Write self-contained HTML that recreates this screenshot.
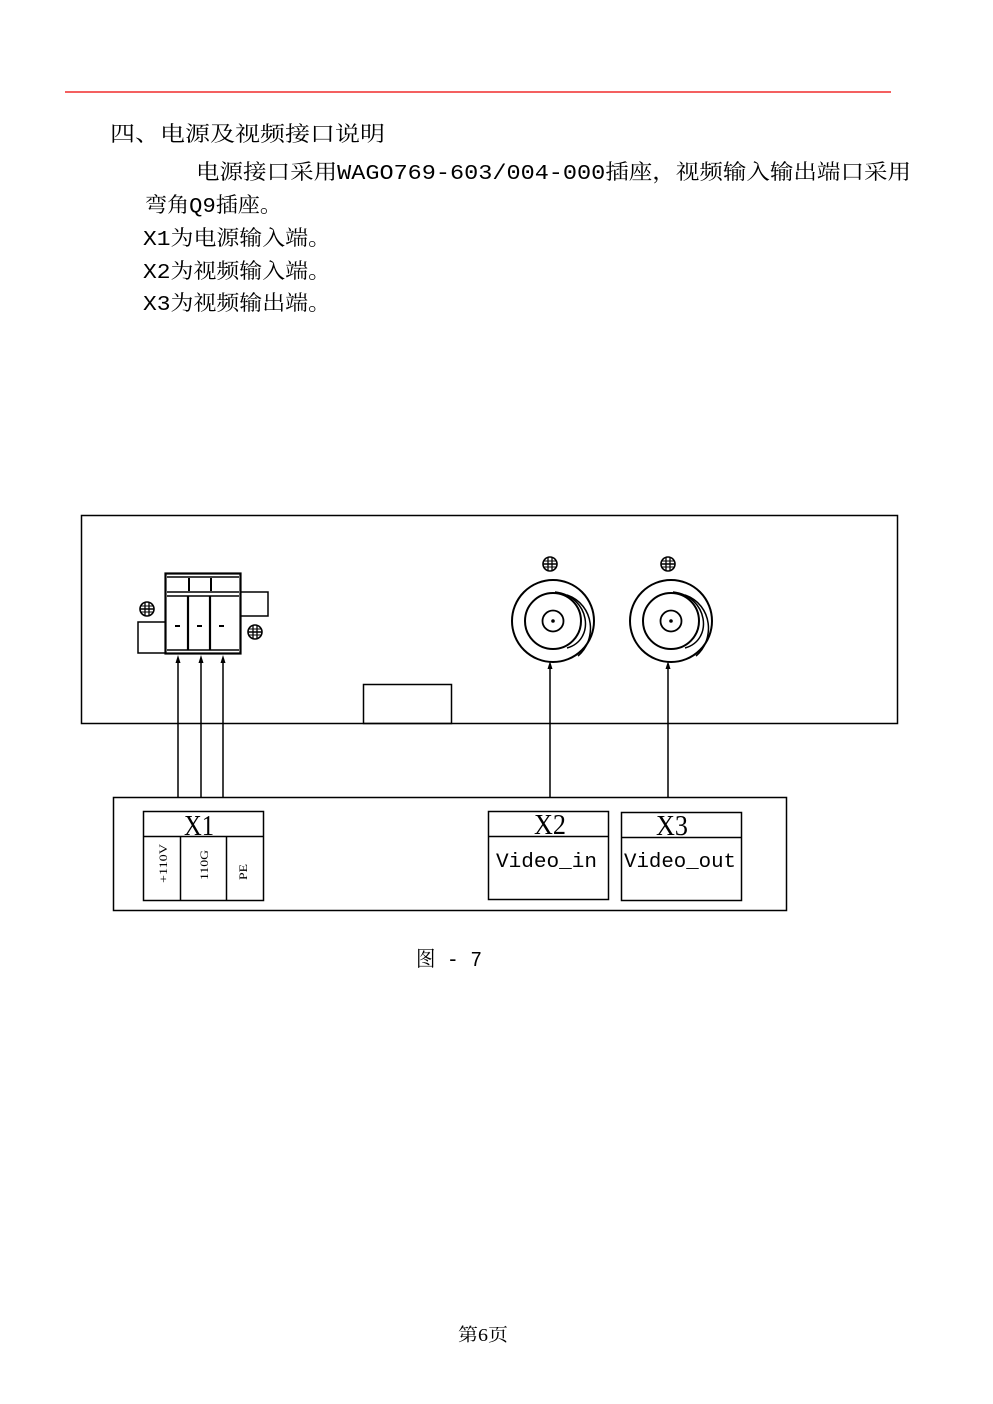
<!DOCTYPE html>
<html><head><meta charset="utf-8"><style>
html,body{margin:0;padding:0;background:#fff;width:993px;height:1404px;overflow:hidden}
svg{display:block}
.t{font-family:"Liberation Serif","Noto Serif CJK SC",serif;fill:#000}
.m{font-family:"Liberation Mono","Noto Serif CJK SC",monospace;fill:#000}
</style></head><body>
<svg width="993" height="1404" viewBox="0 0 993 1404" xmlns="http://www.w3.org/2000/svg">
<defs>
<g id="gr"><circle r="7" fill="none" stroke="#000" stroke-width="1.6"/><line x1="-7" y1="0" x2="7" y2="0" stroke="#000" stroke-width="1.5"/><line x1="-2" y1="-7" x2="-2" y2="7" stroke="#000" stroke-width="1.3"/><line x1="2" y1="-7" x2="2" y2="7" stroke="#000" stroke-width="1.3"/><line x1="-6" y1="-3" x2="6" y2="-3" stroke="#000" stroke-width="1"/><line x1="-6" y1="3" x2="6" y2="3" stroke="#000" stroke-width="1"/></g>
</defs>
<line x1="65" y1="92" x2="891" y2="92" stroke="#e00" stroke-width="1.2"/>
<text class="m" x="110" y="141" font-size="21" textLength="275" lengthAdjust="spacingAndGlyphs">四、电源及视频接口说明</text>
<text class="m" x="196" y="179" font-size="21" textLength="715" lengthAdjust="spacingAndGlyphs">电源接口采用WAGO769-603/004-000插座，视频输入输出端口采用</text>
<text class="m" x="145" y="212" font-size="21" textLength="137" lengthAdjust="spacingAndGlyphs">弯角Q9插座。</text>
<text class="m" x="143" y="245" font-size="21" textLength="188" lengthAdjust="spacingAndGlyphs">X1为电源输入端。</text>
<text class="m" x="143" y="278" font-size="21" textLength="188" lengthAdjust="spacingAndGlyphs">X2为视频输入端。</text>
<text class="m" x="143" y="310" font-size="21" textLength="188" lengthAdjust="spacingAndGlyphs">X3为视频输出端。</text>

<g fill="none" stroke="#000" stroke-width="1.5">
<rect x="81.5" y="515.5" width="816" height="208"/>
<rect x="363.5" y="684.5" width="88" height="39"/>
<path d="M165,622 H138 V653 H165"/>
<path d="M240,592 H268 V616 H240"/>
<rect x="165.5" y="573.5" width="75" height="80" stroke-width="2.2"/>
<line x1="167" y1="577" x2="239" y2="577"/>
<line x1="167" y1="592" x2="239" y2="592"/>
<line x1="167" y1="596" x2="239" y2="596"/>
<line x1="167" y1="650" x2="239" y2="650"/>
<line x1="188" y1="596" x2="188" y2="650" stroke-width="2.2"/>
<line x1="210" y1="596" x2="210" y2="650" stroke-width="2.2"/>
<circle cx="553" cy="621" r="41" stroke-width="2"/>
<circle cx="553" cy="621" r="28" stroke-width="2"/>
<circle cx="553" cy="621" r="10.5" stroke-width="1.8"/>
<path d="M555,592 C590,596 596,640 567,648"/>
<path d="M567,595 C595,605 597,640 578,656"/>
<circle cx="671" cy="621" r="41" stroke-width="2"/>
<circle cx="671" cy="621" r="28" stroke-width="2"/>
<circle cx="671" cy="621" r="10.5" stroke-width="1.8"/>
<path d="M673,592 C708,596 714,640 685,648"/>
<path d="M685,595 C713,605 715,640 696,656"/>
<rect x="113.5" y="797.5" width="673" height="113"/>
<rect x="143.5" y="811.5" width="120" height="89"/>
<line x1="143" y1="836.5" x2="263" y2="836.5"/>
<line x1="180.5" y1="836" x2="180.5" y2="900"/>
<line x1="226.5" y1="836" x2="226.5" y2="900"/>
<rect x="488.5" y="811.5" width="120" height="88"/>
<line x1="488" y1="836.5" x2="608" y2="836.5"/>
<rect x="621.5" y="812.5" width="120" height="88"/>
<line x1="621" y1="837.5" x2="741" y2="837.5"/>
<line x1="178" y1="797" x2="178" y2="660"/>
<line x1="201" y1="797" x2="201" y2="660"/>
<line x1="223" y1="797" x2="223" y2="660"/>
<line x1="550" y1="797" x2="550" y2="667"/>
<line x1="668" y1="797" x2="668" y2="667"/>
</g>
<g fill="#000">
<path d="M178,655 l-2.5,8 h5z"/><path d="M201,655 l-2.5,8 h5z"/><path d="M223,655 l-2.5,8 h5z"/>
<path d="M550,661 l-2.5,8 h5z"/><path d="M668,661 l-2.5,8 h5z"/>
<circle cx="553" cy="621" r="1.8"/><circle cx="671" cy="621" r="1.8"/>
<rect x="175" y="625" width="5" height="2"/><rect x="197" y="625" width="5" height="2"/><rect x="219" y="625" width="5" height="2"/>
<rect x="188" y="578" width="2" height="13"/><rect x="210" y="578" width="2" height="13"/>
</g>
<use href="#gr" x="147" y="609"/>
<use href="#gr" x="255" y="632"/>
<use href="#gr" x="550" y="564"/>
<use href="#gr" x="668" y="564"/>
<text class="t" x="184" y="835" font-size="28" textLength="30" lengthAdjust="spacingAndGlyphs">X1</text>
<text class="t" x="534" y="834" font-size="28" textLength="32" lengthAdjust="spacingAndGlyphs">X2</text>
<text class="t" x="656" y="835" font-size="28" textLength="32" lengthAdjust="spacingAndGlyphs">X3</text>
<text class="m" x="496" y="867" font-size="20" textLength="101" lengthAdjust="spacingAndGlyphs">Video_in</text>
<text class="m" x="624" y="867" font-size="20" textLength="112" lengthAdjust="spacingAndGlyphs">Video_out</text>
<text class="t" font-size="12" transform="translate(167,883) rotate(-90)" textLength="39" lengthAdjust="spacingAndGlyphs">+110V</text>
<text class="t" font-size="12" transform="translate(208,880) rotate(-90)" textLength="30" lengthAdjust="spacingAndGlyphs">110G</text>
<text class="t" font-size="12" transform="translate(247,880) rotate(-90)" textLength="16" lengthAdjust="spacingAndGlyphs">PE</text>
<text class="m" x="416" y="966" font-size="21" textLength="66" lengthAdjust="spacingAndGlyphs">图 - 7</text>
<text class="t" x="458" y="1341" font-size="18" textLength="50" lengthAdjust="spacingAndGlyphs">第6页</text>
</svg>
</body></html>
